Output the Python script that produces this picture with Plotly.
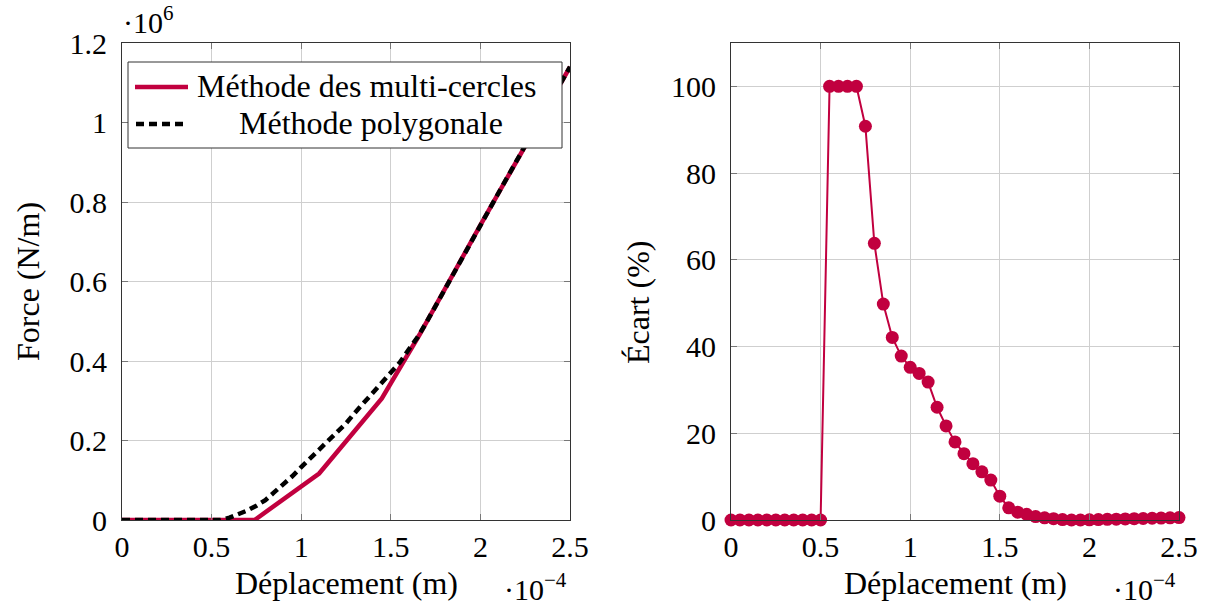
import plotly.graph_objects as go

# ---------------- data ----------------
# displacement in units of 1e-4 m, force in units of 1e6 N/m
x_multi = [0, 0.74, 1.10, 1.45, 1.66, 2.0, 2.5]
f_multi = [0, 0.0, 0.117, 0.306, 0.466, 0.742, 1.14]

x_poly = [0, 0.5, 0.55, 0.6, 0.65, 0.7, 0.75, 0.8, 0.85, 0.9, 0.95, 1.0, 1.05, 1.1,
          1.15, 1.2, 1.25, 1.3, 1.35, 1.4, 1.45, 1.5, 1.55, 1.6, 1.65, 1.7, 1.8,
          1.9, 2.0, 2.1, 2.2, 2.3, 2.4, 2.5]
f_poly = [0, 0, 0.0, 0.006, 0.014, 0.024, 0.036, 0.050, 0.070, 0.089, 0.110, 0.133,
          0.155, 0.178, 0.200, 0.221, 0.243, 0.270, 0.296, 0.320, 0.344, 0.370,
          0.396, 0.429, 0.460, 0.498, 0.580, 0.660, 0.742, 0.822, 0.902, 0.981,
          1.060, 1.140]

x_ecart = [0, 0.05, 0.1, 0.15, 0.2, 0.25, 0.3, 0.35, 0.4, 0.45, 0.5,
           0.55, 0.6, 0.65, 0.7, 0.75, 0.8, 0.85, 0.9, 0.95, 1.0,
           1.05, 1.1, 1.15, 1.2, 1.25, 1.3, 1.35, 1.4, 1.45, 1.5,
           1.55, 1.6, 1.65, 1.7, 1.75, 1.8, 1.85, 1.9, 1.95, 2.0,
           2.05, 2.1, 2.15, 2.2, 2.25, 2.3, 2.35, 2.4, 2.45, 2.5]
ecart = [0, 0, 0, 0, 0, 0, 0, 0, 0, 0, 0,
         100, 100, 100, 100, 90.8, 63.8, 49.8, 42.1, 37.8, 35.2,
         33.8, 31.8, 26.0, 21.7, 18.0, 15.3, 13.0, 11.1, 9.2, 5.5,
         2.8, 1.8, 1.3, 0.8, 0.5, 0.3, 0.1, 0.0, 0.0, 0.05,
         0.1, 0.15, 0.2, 0.25, 0.3, 0.35, 0.4, 0.45, 0.5, 0.55]

x_ticks = [0, 0.5, 1, 1.5, 2, 2.5]
x_ticklabels = ["0", "0.5", "1", "1.5", "2", "2.5"]
f_ticks = [0, 0.2, 0.4, 0.6, 0.8, 1.0, 1.2]
f_ticklabels = ["0", "0.2", "0.4", "0.6", "0.8", "1", "1.2"]
e_ticks = [0, 20, 40, 60, 80, 100]
e_ticklabels = ["0", "20", "40", "60", "80", "100"]

name_multi = "Méthode des multi-cercles"
name_poly = "Méthode polygonale"

CRIMSON = "#C1003F"
FONT = "'Liberation Serif', 'DejaVu Serif', 'Noto Serif', serif"
W, H = 1208, 607


def px(x):
    return x / W


def py(y):
    return 1 - y / H


fig = go.Figure()
fig.add_trace(go.Scatter(x=x_multi, y=f_multi, mode="lines", name=name_multi,
                         line=dict(color=CRIMSON, width=4.5), showlegend=False,
                         xaxis="x", yaxis="y"))
fig.add_trace(go.Scatter(x=x_poly, y=f_poly, mode="lines", name=name_poly,
                         line=dict(color="black", width=4.5, dash="8px,5px"),
                         showlegend=False, xaxis="x", yaxis="y"))
fig.add_trace(go.Scatter(x=x_ecart, y=ecart, mode="lines+markers", showlegend=False,
                         line=dict(color=CRIMSON, width=2),
                         marker=dict(color=CRIMSON, size=13),
                         cliponaxis=False, xaxis="x2", yaxis="y2"))

axis_common = dict(showline=True, mirror="ticks", linecolor="#333", linewidth=1,
                   ticks="inside", ticklen=6, tickcolor="#777", tickwidth=1,
                   showgrid=True, gridcolor="#cfcfcf", gridwidth=1, zeroline=False,
                   automargin=False,
                   tickfont=dict(family=FONT, size=30, color="black"))

fig.update_layout(
    template="none",
    width=W, height=H,
    margin=dict(l=0, r=0, t=0, b=0, pad=0, autoexpand=False),
    paper_bgcolor="white", plot_bgcolor="white",
    font=dict(family=FONT, size=30, color="black"),
    xaxis=dict(domain=[px(122), px(570)], range=[0, 2.5], tickvals=x_ticks,
               ticktext=x_ticklabels, anchor="y", ticklabelstandoff=0, **axis_common),
    yaxis=dict(domain=[py(520), py(43)], range=[0, 1.2], tickvals=f_ticks,
               ticktext=f_ticklabels, anchor="x", ticklabelstandoff=8, **axis_common),
    xaxis2=dict(domain=[px(731), px(1179)], range=[0, 2.5], tickvals=x_ticks,
                ticktext=x_ticklabels, anchor="y2", ticklabelstandoff=0, **axis_common),
    yaxis2=dict(domain=[py(520), py(43)], range=[0, 110], tickvals=e_ticks,
                ticktext=e_ticklabels, anchor="x2", ticklabelstandoff=8, **axis_common),
    showlegend=False,
)

# legend box drawn in paper coordinates (layout decoration)
shapes = [
    dict(type="rect", x0=px(128), x1=px(562), y0=py(148), y1=py(62),
         fillcolor="white", line=dict(color="#333", width=1), layer="above"),
    dict(type="line", x0=px(135), x1=px(188), y0=py(87), y1=py(87),
         line=dict(color=CRIMSON, width=4.5), layer="above"),
    dict(type="line", x0=px(136), x1=px(188), y0=py(124), y1=py(124),
         line=dict(color="black", width=4.5, dash="8px,5px"), layer="above"),
]
for s in shapes:
    s.update(xref="paper", yref="paper")

ann = [
    dict(text=name_multi, x=px(195), y=py(86), xanchor="left", size=32),
    dict(text=name_poly, x=px(371), y=py(123), size=32),
    dict(text="Force (N/m)", x=px(28), y=py(282), textangle=-90, size=32),
    dict(text="Écart (%)", x=px(638), y=py(303), textangle=-90, size=32),
    dict(text="Déplacement (m)", x=px(346), y=py(583), size=32),
    dict(text="Déplacement (m)", x=px(955), y=py(583), size=32),
    dict(text="·10<sup>−4</sup>", x=px(569), y=py(587), xanchor="right", size=30),
    dict(text="·10<sup>−4</sup>", x=px(1178), y=py(587), xanchor="right", size=30),
    dict(text="·10<sup>6</sup>", x=px(121), y=py(20), xanchor="left", size=30),
]
annotations = []
for a in ann:
    size = a.pop("size")
    a.setdefault("xanchor", "center")
    a.update(xref="paper", yref="paper", showarrow=False, yanchor="middle",
             font=dict(family=FONT, size=size, color="black"))
    annotations.append(a)

fig.update_layout(shapes=shapes, annotations=annotations)

fig.write_html("out.html", config={"displayModeBar": False},
               post_script="document.body.style.margin='0';")
